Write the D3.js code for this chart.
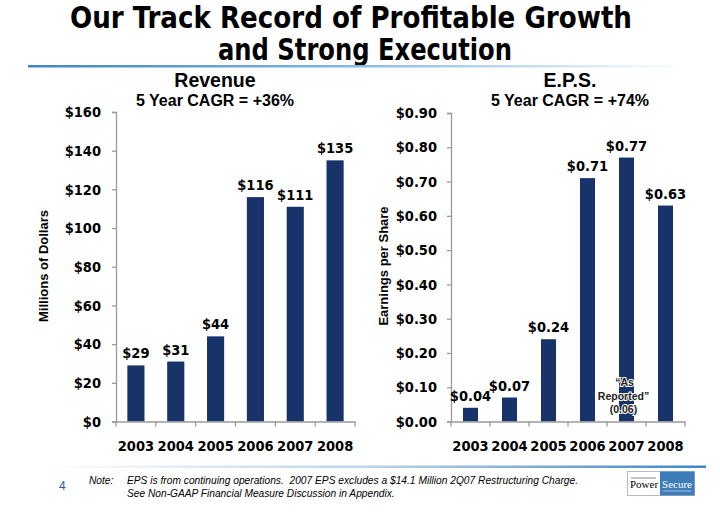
<!DOCTYPE html>
<html><head><meta charset="utf-8">
<script src="https://cdn.jsdelivr.net/npm/d3@7"></script>
<style>body{margin:0;background:#fff}svg{display:block}</style>
</head><body>
<svg id="c" width="720" height="519"></svg>
<script>
const years = ["2003","2004","2005","2006","2007","2008"];
const revenue = [29,31,44,116,111,135];
const revenueLabels = ["$29","$31","$44","$116","$111","$135"];
const revenueTicks = [0,20,40,60,80,100,120,140,160];
const eps = [0.04,0.07,0.24,0.71,0.77,0.63];
const epsLabels = ["$0.04","$0.07","$0.24","$0.71","$0.77","$0.63"];
const epsTicks = [0,0.1,0.2,0.3,0.4,0.5,0.6,0.7,0.8,0.9];

const svg = d3.select("#c");
const NAVY = "#17336a";
const TICKFONT = "'DejaVu Sans Condensed', 'DejaVu Sans', sans-serif";

const defs = svg.append("defs");
const g1 = defs.append("linearGradient").attr("id","gTop");
g1.append("stop").attr("offset","0").attr("stop-color","#3f86c2");
g1.append("stop").attr("offset","0.45").attr("stop-color","#7db3dd");
g1.append("stop").attr("offset","1").attr("stop-color","#ffffff");
const g2 = defs.append("linearGradient").attr("id","gBot");
g2.append("stop").attr("offset","0").attr("stop-color","#ffffff");
g2.append("stop").attr("offset","0.5").attr("stop-color","#b9d3ea");
g2.append("stop").attr("offset","1").attr("stop-color","#3f86c2");

// Title
const title = svg.append("g").attr("font-family","'DejaVu Sans Condensed', sans-serif").attr("font-weight","bold")
  .attr("font-size",30).attr("fill","#000");
title.append("text").attr("x",70).attr("y",28).attr("textLength",562).attr("lengthAdjust","spacingAndGlyphs").text("Our Track Record of Profitable Growth");
title.append("text").attr("x",218).attr("y",60).attr("textLength",294).attr("lengthAdjust","spacingAndGlyphs").text("and Strong Execution");
svg.append("rect").attr("x",28).attr("y",65).attr("width",660).attr("height",2.5).attr("fill","url(#gTop)");

function drawChart(opt){
  const g = svg.append("g");
  const x = d3.scaleBand().domain(years).range([opt.x0,opt.x1]).paddingInner(opt.pad).paddingOuter(opt.pad/2);
  const y = d3.scaleLinear().domain([0,opt.max]).range([421.5,opt.yTop]);
  // headings
  g.append("text").attr("x",opt.cx).attr("y",87).attr("text-anchor","middle")
    .attr("font-family","Arial, 'Liberation Sans', sans-serif").attr("font-weight","bold").attr("font-size",19.5).text(opt.title);
  g.append("text").attr("x",opt.cx).attr("y",106).attr("text-anchor","middle")
    .attr("font-family","Arial, 'Liberation Sans', sans-serif").attr("font-weight","bold").attr("font-size",16).text(opt.sub);
  // y label
  g.append("text").attr("transform",`translate(${opt.ylx},266) rotate(-90)`).attr("text-anchor","middle")
    .attr("font-family","Arial, 'Liberation Sans', sans-serif").attr("font-weight","bold").attr("font-size",13).text(opt.ylabel);
  // bars
  g.selectAll("rect.bar").data(opt.values).join("rect").attr("class","bar")
    .attr("x",(d,i)=>x(years[i])).attr("width",x.bandwidth())
    .attr("y",d=>y(d)).attr("height",d=>y(0)-y(d)).attr("fill",NAVY);
  // y axis
  const ya = g.append("g").attr("transform",`translate(${opt.x0},0)`)
    .call(d3.axisLeft(y).tickValues(opt.ticks).tickSize(4).tickPadding(opt.tp).tickFormat(opt.fmt));
  ya.select(".domain").attr("stroke","#9a9a9a").attr("stroke-width",1.3);
  ya.selectAll(".tick line").attr("stroke","#9a9a9a").attr("stroke-width",1.3);
  ya.selectAll("text").attr("font-family",TICKFONT).attr("font-weight","bold").attr("font-size",14.5).attr("fill","#000");
  // x axis
  const xa = g.append("g").attr("transform",`translate(0,421.5)`)
    .call(d3.axisBottom(x).tickSize(0).tickPadding(19).tickSizeOuter(0));
  xa.select(".domain").attr("stroke","#9a9a9a").attr("stroke-width",1.3);
  xa.selectAll("text").attr("font-family",TICKFONT).attr("font-weight","bold").attr("font-size",14.5).attr("fill","#000");
  const step = x.step();
  xa.selectAll("line.sep").data(d3.range(years.length+1)).join("line").attr("class","sep")
    .attr("x1",i=>opt.x0+i*step).attr("x2",i=>opt.x0+i*step).attr("y1",0).attr("y2",5)
    .attr("stroke","#9a9a9a").attr("stroke-width",1.3);
  // value labels
  g.selectAll("text.val").data(opt.values).join("text").attr("class","val")
    .attr("x",(d,i)=>x(years[i])+x.bandwidth()/2).attr("y",d=>y(d)-7)
    .attr("text-anchor","middle").attr("font-family",TICKFONT).attr("font-weight","bold").attr("font-size",14.5)
    .text((d,i)=>opt.labels[i]);
  return {x,y,g};
}

drawChart({x0:116,x1:355,pad:0.57,max:160,yTop:112,cx:215,title:"Revenue",sub:"5 Year CAGR = +36%",
  ylx:48,ylabel:"Millions of Dollars",values:revenue,labels:revenueLabels,ticks:revenueTicks,tp:11,fmt:d=>"$"+d});
const r = drawChart({x0:451,x1:685,pad:0.615,max:0.9,yTop:113,cx:570,title:"E.P.S.",sub:"5 Year CAGR = +74%",
  ylx:388,ylabel:"Earnings per Share",values:eps,labels:epsLabels,ticks:epsTicks,tp:10,fmt:d=>"$"+d.toFixed(2)});

// As reported annotation
const ann = r.g.append("text").attr("text-anchor","middle").attr("font-family","Arial, 'Liberation Sans', sans-serif")
  .attr("font-weight","bold").attr("font-size",10.5).attr("fill","#222")
  .attr("stroke","#fff").attr("stroke-width",2).attr("paint-order","stroke");
const ax = r.x("2007")+r.x.bandwidth()/2 - 3;
ann.append("tspan").attr("x",ax+1).attr("y",386).text("\u201CAs");
ann.append("tspan").attr("x",ax).attr("y",400).text("Reported\u201D");
ann.append("tspan").attr("x",ax).attr("y",413).text("(0.06)");

// footer
svg.append("rect").attr("x",40).attr("y",465.5).attr("width",666).attr("height",2.5).attr("fill","url(#gBot)");
svg.append("text").attr("x",59).attr("y",490).attr("font-family","Arial, 'Liberation Sans', sans-serif").attr("font-size",12).attr("fill","#2a5a9a").text("4");
const note = svg.append("g").attr("font-family","Arial, 'Liberation Sans', sans-serif").attr("font-style","italic").attr("font-size",10.2).attr("fill","#000");
note.append("text").attr("x",89).attr("y",484).text("Note:");
note.append("text").attr("x",127).attr("y",484).attr("xml:space","preserve").attr("textLength",451).text("EPS is from continuing operations.  2007 EPS excludes a $14.1 Million 2Q07 Restructuring Charge.");
note.append("text").attr("x",127).attr("y",497).text("See Non-GAAP Financial Measure Discussion in Appendix.");
// logo
const lg = svg.append("g");
lg.append("rect").attr("x",627.5).attr("y",471.5).attr("width",67).attr("height",24).attr("fill","#fff").attr("stroke","#bbb");
lg.append("rect").attr("x",660).attr("y",471.5).attr("width",34.5).attr("height",24).attr("fill","#3d7cb8");
lg.append("line").attr("x1",631).attr("x2",656).attr("y1",478).attr("y2",478).attr("stroke","#555").attr("stroke-width",0.7);
lg.append("text").attr("x",644).attr("y",488).attr("text-anchor","middle").attr("font-family","'Liberation Serif', serif").attr("font-size",11).attr("fill","#000").text("Power");
lg.append("text").attr("x",677).attr("y",488).attr("text-anchor","middle").attr("font-family","'Liberation Serif', serif").attr("font-size",11).attr("fill","#fff").text("Secure");
lg.append("line").attr("x1",663).attr("x2",691).attr("y1",491).attr("y2",491).attr("stroke","#cfe0f0").attr("stroke-width",0.7);
</script>
</body></html>
